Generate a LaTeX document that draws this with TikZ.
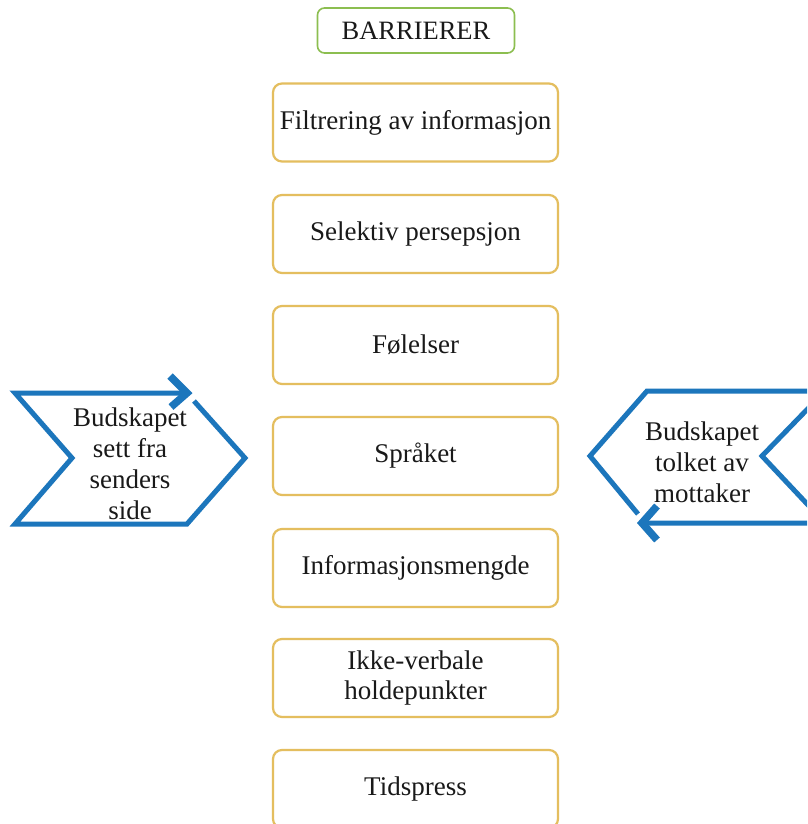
\documentclass[tikz,border=0pt]{standalone}
\usepackage{fontspec}
\setmainfont{Liberation Serif}
\definecolor{barrgreen}{RGB}{140,190,80}
\definecolor{boxgold}{RGB}{228,190,95}
\definecolor{arrblue}{RGB}{28,118,188}
\definecolor{txt}{RGB}{25,25,25}
\tikzset{
  barrbox/.style={draw=barrgreen,line width=1.6pt,rounded corners=7pt,minimum width=197pt,minimum height=45pt,inner sep=0pt,text=txt,font=\fontsize{26.5}{30}\selectfont},
  goldbox/.style={draw=boxgold,line width=2.2pt,rounded corners=9pt,minimum width=285pt,minimum height=78pt,inner sep=0pt,align=center,text=txt,font=\fontsize{27}{30}\selectfont},
  chev/.style={draw=arrblue,line width=5pt,line join=miter},
  chevhead/.style={draw=arrblue,line width=7.5pt,line join=miter},
  chevtext/.style={align=center,text=txt,inner sep=0pt,font=\fontsize{27}{31}\selectfont}
}
\begin{document}
\begin{tikzpicture}[x=1pt,y=-1pt]
\useasboundingbox (0,0) rectangle (807,824);
\clip (0,0) rectangle (807,824);
\fill[white] (0,0) rectangle (807,824);
\node[barrbox] (barr) at (416,30.5) {BARRIERER};
\node[goldbox] (b1) at (415.5,122.5) {Filtrering av informasjon};
\node[goldbox] (b2) at (415.5,234) {Selektiv persepsjon};
\node[goldbox] (b3) at (415.5,345) {Følelser};
\node[goldbox] (b4) at (415.5,456) {Språket};
\node[goldbox] (b5) at (415.5,568) {Informasjonsmengde};
\node[goldbox] (b6) at (415.5,678) {Ikke-verbale\\holdepunkter};
\node[goldbox] (b7) at (415.5,789) {Tidspress};
% left chevron
\draw[chev] (187,393) -- (15,393) -- (72,458) -- (15,524) -- (187,524) -- (245,458) -- (194,401);
\draw[chevhead] (170,376) -- (187,393) -- (171,407);
\node[chevtext] (ltext) at (130,464) {Budskapet\\sett fra\\senders\\side};
% right chevron
\draw[chev] (825,391) -- (647,391) -- (590,456) -- (638,514);
\draw[chev] (645,523) -- (825,523) -- (762,456) -- (825,391);
\draw[chevhead] (657,506) -- (642,523) -- (657,540);
\node[chevtext] (rtext) at (702,462) {Budskapet\\tolket av\\mottaker};
\end{tikzpicture}
\end{document}
